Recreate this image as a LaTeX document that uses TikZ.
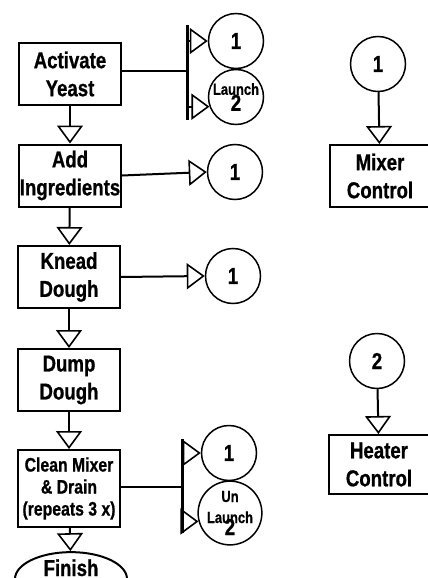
\documentclass[tikz,border=0pt]{standalone}
\usepackage{fontspec}
\newfontfamily\cond{Liberation Sans Bold}[FakeStretch=0.81,FakeBold=0.8]
\newcommand\tagsize{\fontsize{16}{16}\selectfont}
\usetikzlibrary{arrows.meta,shapes.geometric}

\begin{document}
\begin{tikzpicture}[x=1pt,y=-1pt,
  stepbox/.style={draw,line width=2pt,minimum width=102pt,minimum height=62pt,
    inner sep=0pt,align=center,font=\cond\fontsize{23}{28}\selectfont},
  smallbox/.style={stepbox,font=\cond\fontsize{19.5}{22}\selectfont},
  conn/.style={draw,line width=1.5pt,circle,minimum size=55pt,inner sep=0pt,
    align=center,font=\cond\fontsize{23}{23}\selectfont},
  endcap/.style={draw,line width=2pt,ellipse,minimum width=112pt,minimum height=52pt,
    inner sep=0pt,text height=16pt,text depth=22pt,font=\cond\fontsize{23}{28}\selectfont},
  flow/.style={line width=2pt,-{Triangle[open,length=18pt,width=26pt,line width=1.6pt]}},
  link/.style={line width=2pt},
  forkbar/.style={line width=3pt},
]
\useasboundingbox (0,0) rectangle (428,578);
\clip (0,0) rectangle (428,578);

% main sequence
\node[stepbox] (act)   at (70,74)    {Activate\\Yeast};
\node[stepbox] (add)   at (70,175.5) {Add\\Ingredients};
\node[stepbox] (knead) at (69,277)   {Knead\\Dough};
\node[stepbox] (dump)  at (69,380)   {Dump\\Dough};
\node[smallbox,minimum height=77pt] (clean) at (69,488.5) {Clean Mixer\\\& Drain\\(repeats 3 x)};
\node[endcap] (fin) at (71,579) {Finish};

\draw[flow] (act)   -- (add);
\draw[flow] (add)   -- (knead);
\draw[flow] (knead) -- (dump);
\draw[flow] (dump)  -- (clean);
\draw[flow] (clean) -- (fin);

% off-page connectors
\node[conn] (a1) at (236,41) {1};
\node[conn] (a2) at (236,97) {{\tagsize Launch}\\[-7pt]2};
\node[conn] (b1) at (235,172) {1};
\node[conn] (c1) at (233,276) {1};
\node[conn] (d1) at (229,453) {1};
\node[conn] (d2) at (230,513) {{\tagsize Un}\\[-2pt]{\tagsize Launch}\\[-11pt]2};

% Activate Yeast fork
\coordinate (j1) at (187,71);
\draw[link] (act.east |- j1) -- (j1);
\draw[forkbar] (187,25) -- (187,120);
\draw[flow] (a1.west -| j1) -- (a1.west);
\draw[flow] (a2.200 -| j1) -- (a2.200);

% single links
\draw[flow] (add.east)   -- (b1.west);
\draw[flow] (knead.east) -- (c1.west);

% Clean Mixer fork
\coordinate (j2) at (182,487);
\draw[link] (clean.east |- j2) -- (j2);
\draw[forkbar] (182,439) -- (182,533);
\draw[flow] (d1.west -| j2) -- (d1.west);
\draw[flow] (d2.195 -| j2) -- (d2.195);

% controllers
\node[conn] (m1) at (378,64) {1};
\node[stepbox,minimum width=100pt] (mix) at (380,176) {Mixer\\Control};
\draw[flow] (m1) -- (mix);

\node[conn] (h2) at (377,361) {2};
\node[stepbox,minimum width=100pt,minimum height=59pt] (heat) at (379,464.5) {Heater\\Control};
\draw[flow] (h2) -- (heat);
\end{tikzpicture}
\end{document}
